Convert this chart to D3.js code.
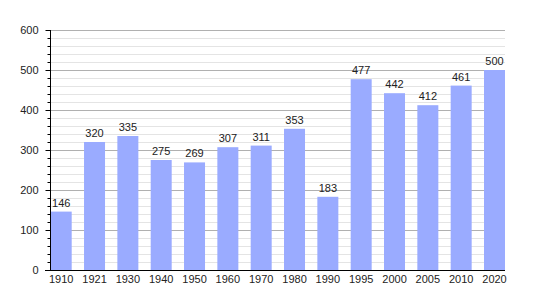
<!DOCTYPE html>
<html>
<head>
<meta charset="utf-8">
<script src="https://cdn.jsdelivr.net/npm/d3@7"></script>
<style>
  body { margin: 0; background: #fff; }
  text { font-family: "Liberation Sans", Arial, sans-serif; font-size: 11px; fill: #222; }
</style>
</head>
<body>
<svg width="535" height="300"></svg>
<script>
const years = ["1910", "1921", "1930", "1940", "1950", "1960", "1970", "1980", "1990", "1995", "2000", "2005", "2010", "2020"];
const population = [146, 320, 335, 275, 269, 307, 311, 353, 183, 477, 442, 412, 461, 500];
const yTicks = [0, 100, 200, 300, 400, 500, 600];

const svg = d3.select("svg");

const x = d3.scaleBand().domain(years).range([50.7, 505]).paddingInner(0.37).paddingOuter(0);
const y = d3.scaleLinear().domain([0, 600]).range([270, 30]);

// minor grid every 20
svg.append("g")
  .selectAll("line")
  .data(d3.range(20, 601, 20).filter(v => v % 100 !== 0))
  .enter()
  .append("line")
  .attr("x1", 50).attr("x2", 505)
  .attr("y1", d => y(d) + 0.5).attr("y2", d => y(d) + 0.5)
  .attr("stroke", "#e4e4e4");

// major grid
svg.append("g")
  .selectAll("line")
  .data(yTicks.slice(1))
  .enter()
  .append("line")
  .attr("x1", 50).attr("x2", 505)
  .attr("y1", d => y(d) + 0.5).attr("y2", d => y(d) + 0.5)
  .attr("stroke", "#b0b0b0");

// bars
svg.append("g")
  .selectAll("rect")
  .data(years)
  .enter()
  .append("rect")
  .attr("x", d => x(d))
  .attr("width", x.bandwidth())
  .attr("y", (d, i) => y(population[i]))
  .attr("height", (d, i) => y(0) - y(population[i]))
  .attr("fill", "#9aabff");

// value labels
svg.append("g")
  .selectAll("text")
  .data(years)
  .enter()
  .append("text")
  .attr("x", d => x(d) + x.bandwidth() / 2)
  .attr("y", (d, i) => y(population[i]) - 5)
  .attr("text-anchor", "middle")
  .text((d, i) => population[i]);

// y axis
const yAxis = d3.axisLeft(y).tickValues(yTicks).tickSize(5).tickPadding(7);
svg.append("g")
  .attr("transform", "translate(50.5,0)")
  .call(g => {
    g.call(yAxis);
    g.select(".domain").attr("d", "M0,30V270").attr("stroke", "#000");
    g.selectAll(".tick text").style("font-family", null).style("font-size", null).attr("font-family", null).attr("font-size", null);
  })
  .call(g => g.selectAll(".minor")
    .data(d3.range(20, 600, 20).filter(v => v % 100 !== 0))
    .enter()
    .append("line")
    .attr("class", "minor")
    .attr("x1", -3).attr("x2", 0)
    .attr("y1", d => y(d) + 0.5).attr("y2", d => y(d) + 0.5)
    .attr("stroke", "#000"));

// x axis
const xAxis = d3.axisBottom(x).tickSize(0).tickPadding(5);
svg.append("g")
  .attr("transform", "translate(0,270.5)")
  .call(g => {
    g.call(xAxis);
    g.select(".domain").attr("d", "M45,0H505").attr("stroke", "#000");
    g.selectAll(".tick text").attr("font-family", null).attr("font-size", null);
  });

svg.selectAll("g[font-family]").attr("font-family", null).attr("font-size", null);
</script>
</body>
</html>
